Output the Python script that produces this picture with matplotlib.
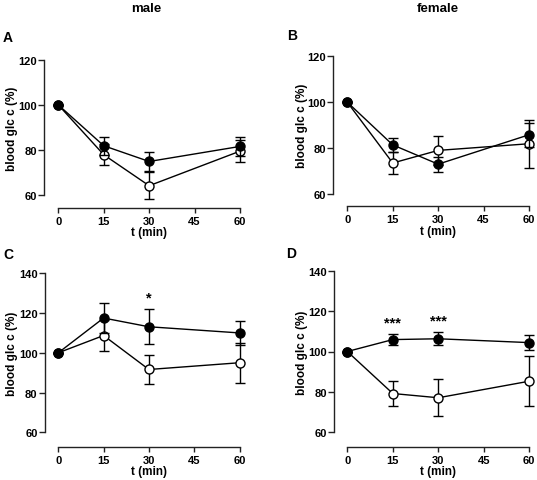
import matplotlib
matplotlib.use("Agg")
import matplotlib.pyplot as plt
import numpy as np

plt.rcParams['font.family'] = ['Liberation Sans', 'DejaVu Sans']
plt.rcParams['font.weight'] = 'bold'

t = [0, 15, 30, 60]

# Panel A (male)
A_filled = [100, 81.8, 74.8, 81.5]
A_filled_err = [0, 4.1, 4.2, 4.3]
A_open = [100, 77.8, 64.0, 79.4]
A_open_err = [0, 4.6, 5.9, 5.0]

# Panel B (female)
B_filled = [100, 81.4, 73.0, 85.8]
B_filled_err = [0, 3.2, 3.2, 5.2]
B_open = [100, 73.5, 79.0, 81.9]
B_open_err = [0, 4.9, 6.2, 10.4]

# Panel C (male)
C_filled = [100, 117.5, 113.1, 110.0]
C_filled_err = [0, 7.6, 8.7, 6.2]
C_open = [100, 108.7, 91.6, 95.0]
C_open_err = [0, 7.9, 7.4, 10.0]

# Panel D (female)
D_filled = [100, 105.9, 106.3, 104.4]
D_filled_err = [0, 2.6, 3.2, 3.9]
D_open = [100, 79.2, 77.1, 85.3]
D_open_err = [0, 6.1, 9.1, 12.3]

C_stars = {30: '*'}
D_stars = {15: '***', 30: '***'}

xticks = [0, 15, 30, 45, 60]

W, H = 537, 481
fig = plt.figure(figsize=(W / 100, H / 100), dpi=100)


def make_ax(x_spine, x0, x60, y_top, y_bot, x_axis, ymin, ymax, ylab_x, xlab_y):
    left = x_spine / W
    width = (x60 - x_spine) / W
    bottom = 1 - x_axis / H
    height = (x_axis - y_top) / H
    ax = fig.add_axes([left, bottom, width, height])
    ppu_x = (x60 - x0) / 60.0
    ax.set_xlim(-(x0 - x_spine) / ppu_x, 60)
    ppu_y = (y_bot - y_top) / (ymax - ymin)
    ax.set_ylim(ymin - (x_axis - y_bot) / ppu_y, ymax)
    ax.spines['top'].set_visible(False)
    ax.spines['right'].set_visible(False)
    ax.spines['left'].set_bounds(ymin, ymax)
    ax.spines['bottom'].set_bounds(0, 60)
    for s in ['left', 'bottom']:
        ax.spines[s].set_linewidth(1.0)
        ax.spines[s].set_color('#222222')
    ax.tick_params(direction='out', length=4, width=1.0, labelsize=8, colors='#222222', labelcolor='black')
    ax.tick_params(axis='y', pad=1)
    ax.tick_params(axis='x', pad=2.5, length=3.5)
    ax.set_xticks(xticks)
    ax.set_yticks(np.arange(ymin, ymax + 1, 20))
    for lab in ax.get_xticklabels() + ax.get_yticklabels():
        lab.set_fontweight('bold')
    ax.set_xlabel('t (min)', fontsize=8.5, fontweight='bold')
    ax.set_ylabel('blood glc c (%)', fontsize=8.5, fontweight='bold')
    ax.yaxis.set_label_coords((ylab_x - x_spine) / (x60 - x_spine),
                              (x_axis - (y_top + y_bot) / 2) / (x_axis - y_top))
    ax.yaxis.label.set_va('center')
    ax.xaxis.set_label_coords(((x0 + x60) / 2 - x_spine) / (x60 - x_spine),
                              (x_axis - xlab_y) / (x_axis - y_top))
    ax.xaxis.label.set_va('center')
    ax.patch.set_visible(False)
    return ax


def plot_series(ax, yf, ef, yo, eo):
    ax.errorbar(t, yo, yerr=eo, color='black', lw=1.0, elinewidth=1.0, capsize=3.5, capthick=1.0,
                marker='o', ms=6.5, mfc='white', mec='black', mew=1.0, clip_on=False, zorder=3)
    ax.errorbar(t, yf, yerr=ef, color='black', lw=1.0, elinewidth=1.0, capsize=3.5, capthick=1.0,
                marker='o', ms=6.5, mfc='black', mec='black', mew=1.0, clip_on=False, zorder=4)


axA = make_ax(44, 58.3, 240, 61, 195.7, 208.5, 60, 120, 12, 233)
plot_series(axA, A_filled, A_filled_err, A_open, A_open_err)
axB = make_ax(333.3, 347.3, 529, 57.3, 195, 207, 60, 120, 302, 232)
plot_series(axB, B_filled, B_filled_err, B_open, B_open_err)
axC = make_ax(44.5, 58.3, 239.5, 274.3, 433.3, 447.7, 60, 140, 12, 472)
plot_series(axC, C_filled, C_filled_err, C_open, C_open_err)
axD = make_ax(334, 347.3, 529.3, 271.7, 433.3, 447.7, 60, 140, 302, 472)
plot_series(axD, D_filled, D_filled_err, D_open, D_open_err)

for ax, stars, yf, ef in [(axC, C_stars, C_filled, C_filled_err), (axD, D_stars, D_filled, D_filled_err)]:
    for x, s in stars.items():
        i = t.index(x)
        ax.text(x, yf[i] + ef[i] + 2.5, s, ha='center', va='bottom', fontsize=10.5, fontweight='bold')

fig.text(146 / W, 1 - 9 / H, 'male', ha='center', va='center', fontsize=9.5, fontweight='bold')
fig.text(438 / W, 1 - 9 / H, 'female', ha='center', va='center', fontsize=9.5, fontweight='bold')
for lbl, x, y in [('A', 3, 38), ('B', 287, 36), ('C', 3, 255), ('D', 286, 254)]:
    fig.text(x / W, 1 - y / H, lbl, ha='left', va='center', fontsize=10, fontweight='bold')

fig.savefig('out.png', dpi=100)
